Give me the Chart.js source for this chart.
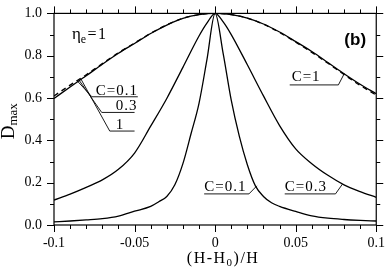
<!DOCTYPE html>
<html><head><meta charset="utf-8">
<script src="https://cdn.jsdelivr.net/npm/chart.js@4.4.1/dist/chart.umd.min.js"></script>
<style>html,body{margin:0;padding:0;background:#fff}#wrap{width:388px;height:271px}</style>
</head><body><div id="wrap"><canvas id="c" width="388" height="271"></canvas></div>
<script>
// x positions ((H-H0)/H) and Dmax values
const xWide = [-0.1,-0.09,-0.08,-0.07,-0.06,-0.05,-0.04,-0.03,-0.02,-0.01,0,0.01,0.02,0.03,0.04,0.05,0.06,0.07,0.08,0.09,0.1];
const dWideSolid = [0.598,0.652,0.705,0.76,0.812,0.858,0.905,0.945,0.976,0.994,1.0,0.994,0.978,0.95,0.912,0.867,0.82,0.768,0.715,0.665,0.62];
const dWideDashed = [0.610,0.661,0.710,0.763,0.814,0.860,0.906,0.946,0.977,0.994,1.0,0.994,0.978,0.949,0.910,0.864,0.816,0.764,0.711,0.660,0.614];
const xC03 = [-0.1,-0.09,-0.08,-0.07,-0.06,-0.05,-0.04,-0.03,-0.02,-0.01,-0.005,0,0.005,0.01,0.02,0.03,0.04,0.05,0.06,0.07,0.08,0.09,0.1];
const dC03 = [0.118,0.146,0.178,0.213,0.263,0.34,0.467,0.598,0.745,0.893,0.955,1.0,0.96,0.9,0.757,0.61,0.47,0.36,0.29,0.235,0.19,0.158,0.131];
const xC01 = [-0.1,-0.09,-0.08,-0.07,-0.06,-0.05,-0.04,-0.035,-0.03,-0.025,-0.02,-0.015,-0.01,-0.005,0,0.005,0.01,0.015,0.02,0.025,0.03,0.035,0.04,0.05,0.06,0.07,0.08,0.09,0.1];
const dC01 = [0.015,0.019,0.024,0.03,0.042,0.065,0.088,0.11,0.135,0.19,0.29,0.43,0.575,0.785,1.0,0.81,0.59,0.42,0.285,0.185,0.135,0.105,0.088,0.064,0.043,0.032,0.026,0.022,0.019];
const xTickLabels = ['-0.1','-0.05','0','0.05','0.1'];
const yTickLabels = ['0.0','0.2','0.4','0.6','0.8','1.0'];

const pts = (xs, ys) => xs.map((x, i) => ({x, y: ys[i]}));
const serif = '"Liberation Serif", "Times New Roman", serif';

const annotations = {
  labels: [
    {text: 'C=1',   x: 0.0475, y: 0.68,  line: [[0.0463,0.662],[0.0765,0.662],[0.0802,0.716]]},
    {text: 'C=0.3', x: 0.0432, y: 0.162, line: [[0.0432,0.147],[0.0747,0.147],[0.0790,0.193]]},
    {text: 'C=0.1', x: -0.0068,y: 0.162, line: [[-0.0068,0.147],[0.0210,0.147],[0.0259,0.185]]},
    {text: 'C=0.1', x: -0.0741,y: 0.614, line: [[-0.0858,0.683],[-0.0765,0.606],[-0.0480,0.606]]},
    {text: '0.3',   x: -0.0617,y: 0.542, line: [[-0.0846,0.686],[-0.0704,0.532],[-0.0500,0.532]]},
    {text: '1',     x: -0.0617,y: 0.456, line: [[-0.0833,0.690],[-0.0654,0.444],[-0.0500,0.444]]}
  ]
};

const framePlugin = {
  id: 'frame',
  afterDraw(chart) {
    const {ctx, chartArea: a, scales: {x, y}} = chart;
    ctx.save();
    ctx.strokeStyle = '#000';
    ctx.lineWidth = 1.2;
    ctx.strokeRect(a.left, a.top, a.right - a.left, a.bottom - a.top);
    ctx.lineWidth = 1;
    ctx.beginPath();
    for (let i = -10; i <= 10; i++) {
      const v = i / 100, px = Math.round(x.getPixelForValue(v)) + 0.5;
      const L = (i % 5 === 0) ? 7 : 4;
      ctx.moveTo(px, a.bottom); ctx.lineTo(px, a.bottom + L);
      ctx.moveTo(px, a.top); ctx.lineTo(px, a.top - L);
    }
    for (let i = 0; i <= 10; i++) {
      const v = i / 10, py = Math.round(y.getPixelForValue(v)) + 0.5;
      const L = (i % 2 === 0) ? 7 : 4;
      ctx.moveTo(a.left, py); ctx.lineTo(a.left - L, py);
      ctx.moveTo(a.right, py); ctx.lineTo(a.right + L, py);
    }
    ctx.stroke();

    // annotations
    ctx.fillStyle = '#000';
    ctx.font = '15px ' + serif;
    ctx.textBaseline = 'alphabetic';
    ctx.lineWidth = 0.9;
    ctx.letterSpacing = '1px';
    for (const l of annotations.labels) {
      ctx.fillText(l.text, x.getPixelForValue(l.x), y.getPixelForValue(l.y));
      ctx.beginPath();
      l.line.forEach((p, i) => {
        const px = x.getPixelForValue(p[0]), py = y.getPixelForValue(p[1]);
        if (i === 0) ctx.moveTo(px, py); else ctx.lineTo(px, py);
      });
      ctx.stroke();
    }
    ctx.letterSpacing = '0px';
    // eta_e = 1
    let ex = x.getPixelForValue(-0.0889), ey = y.getPixelForValue(0.877);
    ctx.font = '17px ' + serif;
    ctx.fillText('\u03B7', ex, ey);
    ex += ctx.measureText('\u03B7').width;
    ctx.font = '12px ' + serif;
    ctx.fillText('e', ex, ey + 4);
    ex += ctx.measureText('e').width + 1.5;
    ctx.font = '16px ' + serif;
    ctx.letterSpacing = '1.5px';
    ctx.fillText('=1', ex, ey);
    ctx.letterSpacing = '0px';
    // (b)
    ctx.font = 'bold 17px "Liberation Sans", Arial, sans-serif';
    ctx.fillText('(b)', x.getPixelForValue(0.0802), y.getPixelForValue(0.85));

    // x axis title
    ctx.letterSpacing = '1.5px';
    ctx.font = '16px ' + serif;
    const p1 = '(H-H', p2 = ')/H';
    const w1 = ctx.measureText(p1).width, w3 = ctx.measureText(p2).width;
    ctx.font = '11px ' + serif;
    const w2 = ctx.measureText('0').width;
    let tx = (a.left + a.right) / 2 + 8 - (w1 + w2 + w3) / 2;
    const ty = 263;
    ctx.font = '16px ' + serif;
    ctx.fillText(p1, tx, ty);
    ctx.font = '11px ' + serif;
    ctx.fillText('0', tx + w1, ty + 3);
    ctx.font = '16px ' + serif;
    ctx.fillText(p2, tx + w1 + w2, ty);
    ctx.letterSpacing = '0px';

    // y axis title (rotated)
    ctx.save();
    ctx.translate(14, (a.top + a.bottom) / 2 + 2);
    ctx.rotate(-Math.PI / 2);
    ctx.font = '19px ' + serif;
    const dw = ctx.measureText('D').width;
    ctx.font = '13px ' + serif;
    const mw = ctx.measureText('max').width;
    const sx = -(dw + mw) / 2;
    ctx.font = '19px ' + serif;
    ctx.fillText('D', sx, 0);
    ctx.font = '13px ' + serif;
    ctx.fillText('max', sx + dw, 3);
    ctx.restore();

    ctx.restore();
  }
};

const lineDs = (data, dash) => ({
  data, borderColor: '#000', borderWidth: 1.3, borderDash: dash || [],
  pointRadius: 0, fill: false, showLine: true, cubicInterpolationMode: 'monotone', tension: 0
});

new Chart(document.getElementById('c'), {
  type: 'scatter',
  data: {
    datasets: [
      lineDs(pts(xWide, dWideDashed), [5, 4]),
      lineDs(pts(xWide, dWideSolid)),
      lineDs(pts(xC03, dC03)),
      lineDs(pts(xC01, dC01))
    ]
  },
  options: {
    responsive: false, animation: false, devicePixelRatio: 1,
    layout: {padding: {left: 0, right: 10, top: 9, bottom: 0}},
    plugins: {legend: {display: false}, tooltip: {enabled: false}},
    scales: {
      x: {
        type: 'linear', min: -0.1, max: 0.1,
        grid: {display: false, drawTicks: true, tickLength: 7},
        border: {display: false},
        ticks: {stepSize: 0.05, padding: 3, color: '#000', font: {family: serif, size: 14},
          maxRotation: 0, autoSkip: false,
          callback: v => xTickLabels[Math.round((v + 0.1) / 0.05)]},
        afterFit: s => { s.height = 46; }
      },
      y: {
        type: 'linear', min: 0, max: 1,
        grid: {display: false, drawTicks: true, tickLength: 7},
        border: {display: false},
        ticks: {stepSize: 0.2, padding: 5, color: '#000', font: {family: serif, size: 14},
          callback: v => yTickLabels[Math.round(v / 0.2)]},
        afterFit: s => { s.width = 54; }
      }
    }
  },
  plugins: [framePlugin]
});
</script></body></html>
